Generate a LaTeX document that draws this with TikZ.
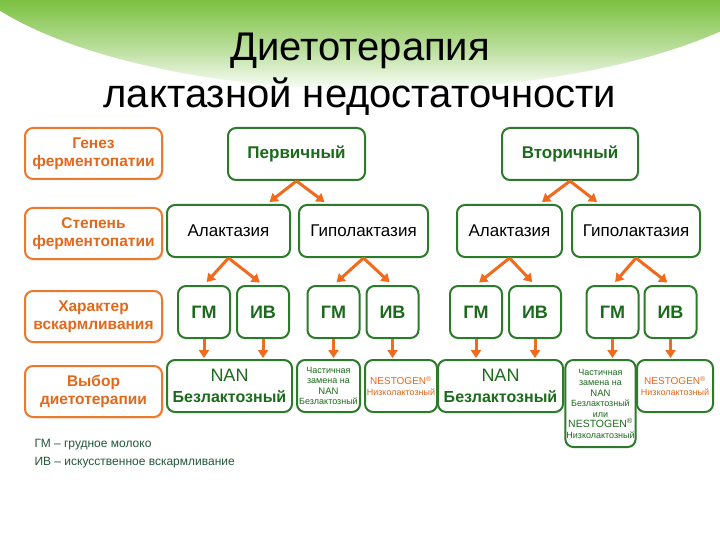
\documentclass[tikz,border=0pt]{standalone}
\usepackage{fontspec}
\setmainfont{Liberation Sans}
\usepackage{xcolor}
\usepackage{tikz}
\usetikzlibrary{calc,positioning,arrows.meta,shadows}
\definecolor{FrameOrange}{HTML}{EB7A2E}
\definecolor{TextOrange}{HTML}{E2691C}
\definecolor{ArrowOrange}{HTML}{F26A1B}
\definecolor{FrameGreen}{HTML}{2B7B2B}
\definecolor{TextGreen}{HTML}{1C6A1C}
\definecolor{BandGreen}{HTML}{7CC142}
\definecolor{NoteGreen}{HTML}{24573A}
\newcommand{\setfs}[2]{\fontsize{#1}{#2}\selectfont}

\begin{document}
\begin{tikzpicture}[x=1pt, y=-1pt,
    obox/.style={draw=FrameOrange, fill=white, line width=2pt, rounded corners=8pt, align=center, text=TextOrange, font=\setfs{15.5}{18}\bfseries, minimum width=137pt, minimum height=51pt, inner sep=1pt, drop shadow={fill=FrameOrange, opacity=0.18, shadow xshift=1.5pt, shadow yshift=-1.5pt}},
    gbox/.style={draw=FrameGreen, fill=white, line width=2pt, rounded corners=8pt, align=center, text=TextGreen, minimum height=52pt, inner sep=1pt},
    kbox/.style={gbox, minimum width=52pt, font=\setfs{18}{20}\bfseries},
    arr/.style={draw=ArrowOrange, line width=3pt, -{Triangle[width=10pt,length=8pt]}}]
        \useasboundingbox (0,0) rectangle (720,540);
        \fill[white] (0,0) rectangle (720,540);
        % top band
        \begin{scope}
            \clip (380,-70) ellipse (440 and 160);
            \shade[top color=BandGreen, bottom color=white, middle color=BandGreen!55] (0,0) rectangle (720,92);
        \end{scope}
        \node[anchor=base, font=\setfs{40}{48}] (title1) at (360,61) {Диетотерапия};
        \node[anchor=base, font=\setfs{40}{48}] (title2) at (360,108) {лактазной недостаточности};

        % left column
        \node[obox] (genez) at (93.5,153.5) {Генез\\ферментопатии};
        \node[obox, below=27pt of genez] (stepen) {Степень\\ферментопатии};
        \node[obox, below=30pt of stepen] (harakter) {Характер\\вскармливания};
        \node[obox, below=22pt of harakter] (vybor) {Выбор\\диетотерапии};

        % top level
        \node[gbox, minimum width=137pt, font=\setfs{17}{20}\bfseries] (perv) at (296.5,154) {Первичный};
        \node[gbox, minimum width=136pt, font=\setfs{17}{20}\bfseries] (vtor) at (570,154) {Вторичный};

        % degree
        \node[gbox, minimum width=123pt, text=black, font=\setfs{17}{20}] (alak1) at (228.5,231) {Алактазия};
        \node[gbox, minimum width=129pt, text=black, font=\setfs{17}{20}] (gipo1) at (363.5,231) {Гиполактазия};
        \node[gbox, minimum width=105pt, text=black, font=\setfs{17}{20}] (alak2) at (509.5,231) {Алактазия};
        \node[gbox, minimum width=128pt, text=black, font=\setfs{17}{20}] (gipo2) at (636,231) {Гиполактазия};

        % feeding
        \node[kbox] (gm1) at (204,312) {ГМ};
        \node[kbox, right=5pt of gm1] (iv1) {ИВ};
        \node[kbox] (gm2) at (333.5,312) {ГМ};
        \node[kbox, right=5pt of gm2] (iv2) {ИВ};
        \node[kbox] (gm3) at (476,312) {ГМ};
        \node[kbox, right=5pt of gm3] (iv3) {ИВ};
        \node[kbox] (gm4) at (612.5,312) {ГМ};
        \node[kbox, right=4pt of gm4] (iv4) {ИВ};

        % diet
        \node[gbox, minimum width=125pt, font=\setfs{16}{21}] (nan1) at (229.5,386) {{\setfs{18}{21}NAN}\\\textbf{Безлактозный}};
        \node[gbox, minimum width=63pt, font=\setfs{9}{10.5}] (part1) at (328.5,386) {Частичная\\замена на\\{\setfs{9.5}{10.5}NAN}\\Безлактозный};
        \node[gbox, minimum width=72pt, text=TextOrange, font=\setfs{9}{11}] (nest1) at (401,386) {{\setfs{10}{11}NESTOGEN\textsuperscript{®}}\\Низколактозный};
        \node[gbox, minimum width=125pt, font=\setfs{16}{21}] (nan2) at (500.5,386) {{\setfs{18}{21}NAN}\\\textbf{Безлактозный}};
        \node[gbox, minimum width=65pt, minimum height=87pt, font=\setfs{9}{10.5}] (part2) at (600.5,403.5) {Частичная\\замена на\\{\setfs{9.5}{10.5}NAN}\\Безлактозный\\или\\{\setfs{10.5}{10.5}NESTOGEN\textsuperscript{®}}\\Низколактозный};
        \node[gbox, minimum width=76pt, text=TextOrange, font=\setfs{9}{11}] (nest2) at (675,386) {{\setfs{10}{11}NESTOGEN\textsuperscript{®}}\\Низколактозный};

        % arrows
        \coordinate (perv-l) at ($(perv.south)+(-27,21)$);
        \coordinate (perv-r) at ($(perv.south)+(28,21)$);
        \coordinate (vtor-l) at ($(vtor.south)+(-28,21)$);
        \coordinate (vtor-r) at ($(vtor.south)+(27,21)$);
        \draw[arr] (perv.south) -- (perv-l);
        \draw[arr] (perv.south) -- (perv-r);
        \draw[arr] (vtor.south) -- (vtor-l);
        \draw[arr] (vtor.south) -- (vtor-r);
        \foreach \up/\lo in {alak1/gm1, alak1/iv1, gipo1/gm2, gipo1/iv2, alak2/gm3, alak2/iv3, gipo2/gm4, gipo2/iv4}
            \draw[arr, shorten >=4pt] (\up.south) -- (\lo.north);
        \foreach \up/\lo in {gm1/nan1, iv1/nan1, gm2/part1, iv2/nest1, gm3/nan2, iv3/nan2, gm4/part2, iv4/nest2}
            \draw[arr, shorten >=1pt] (\up.south) -- (\up.south |- \lo.north);

        % legend
        \node[anchor=west, align=left, text=NoteGreen, font=\setfs{12}{18}] (legend) at (31,454) {ГМ – грудное молоко\\ИВ – искусственное вскармливание};
    \end{tikzpicture}
\end{document}
